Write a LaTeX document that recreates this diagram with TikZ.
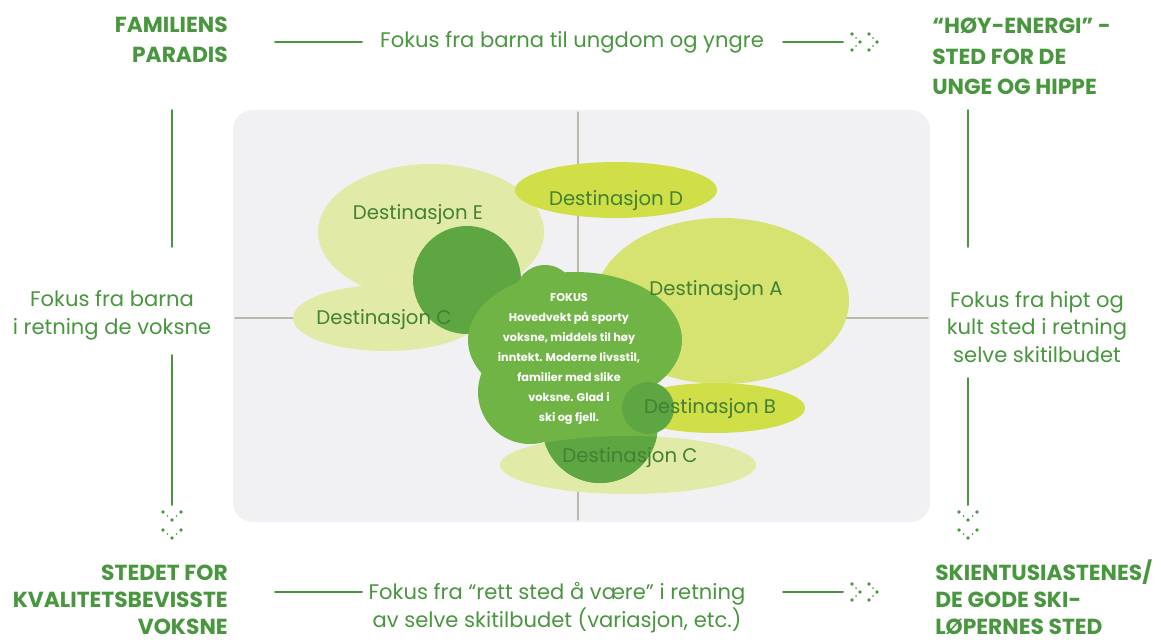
\documentclass[tikz,border=0pt]{standalone}
\usepackage{fontspec}
\setmainfont{Poppins}
\usetikzlibrary{positioning}
\definecolor{skigreen}{RGB}{72,150,62}
\definecolor{paneltone}{RGB}{241,241,243}
\definecolor{crossgray}{RGB}{188,184,176}
\definecolor{palelime}{RGB}{226,234,168}
\definecolor{midlime}{RGB}{214,227,112}
\definecolor{brightlime}{RGB}{208,223,72}
\definecolor{focusgreen}{RGB}{112,180,70}
\definecolor{deepgreen}{RGB}{94,166,66}
\definecolor{labelgreen}{RGB}{66,128,52}

\tikzset{
  corner/.style={text=skigreen, font=\bfseries\fontsize{15.5}{22}\selectfont, align=#1, inner sep=0pt},
  lowcorner/.style={corner=#1, font=\bfseries\fontsize{15.5}{19.2}\selectfont},
  axistext/.style={text=skigreen, font=\fontsize{15}{19.5}\selectfont, align=center, inner sep=0pt},
  destlabel/.style={text=labelgreen, font=\fontsize{14}{15}\selectfont, inner sep=0pt},
  axisline/.style={skigreen, line width=1.4pt},
}
% dotted chevrons
\newcommand{\chevright}[1]{%
  \begin{scope}[shift={(#1)}]
    \foreach \k in {0,17} {
      \foreach \a/\b/\r in {0/-8/1.3pt, 4/-4/0.7pt, 8/0/1.3pt, 4/4/0.7pt, 0/8/1.3pt}
        \fill[skigreen] (\a+\k,\b) circle (\r);
    }
  \end{scope}}
\newcommand{\chevdown}[1]{%
  \begin{scope}[shift={(#1)}]
    \foreach \k in {0,18} {
      \foreach \a/\b/\r in {-9/0/1.3pt, -4.5/4/0.7pt, 0/8/1.3pt, 4.5/4/0.7pt, 9/0/1.3pt}
        \fill[skigreen] (\a,\b+\k) circle (\r);
    }
  \end{scope}}

\begin{document}
\begin{tikzpicture}[line cap=round,line join=round, x=0.025cm,y=-0.025cm]
\useasboundingbox (0,0) rectangle (1161,643);
% panel and cross
\fill[paneltone, rounded corners=14pt] (233,110) rectangle (930,522);
\draw[crossgray, line width=0.8pt] (578,112) -- (578,520);
\draw[crossgray, line width=0.8pt] (235,318) -- (928,318);
% destinations
\fill[palelime] (431,232) ellipse [x radius=113, y radius=68];
\fill[brightlime] (616,190) ellipse [x radius=101, y radius=28];
\fill[midlime] (722,301) ellipse [x radius=127, y radius=83];
\fill[palelime] (386,318) ellipse [x radius=93, y radius=33];
\fill[brightlime] (715,408) ellipse [x radius=90, y radius=25];
\fill[palelime] (628,465) ellipse [x radius=128, y radius=29];
% focus blob
\fill[deepgreen] (467,280) circle [radius=54];
\fill[focusgreen] (545,295) circle [radius=30];
\fill[focusgreen] (575,340) ellipse [x radius=107, y radius=68];
\fill[focusgreen] (530,392) circle [radius=52];
\fill[focusgreen] (600,425) circle [radius=58];
\begin{scope}
  \clip (628,465) ellipse [x radius=128, y radius=29];
  \fill[deepgreen] (600,425) circle [radius=58];
\end{scope}
\fill[deepgreen] (648,408) circle [radius=26];
% destination labels
\node[destlabel] (destE) at (418,215) {Destinasjon E};
\node[destlabel] (destD) at (616,201) {Destinasjon D};
\node[destlabel] (destA) at (716,291) {Destinasjon A};
\node[destlabel] (destCl) at (384,320) {Destinasjon C};
\node[destlabel] (destB) at (710,409) {Destinasjon B};
\node[destlabel] (destCb) at (630,458) {Destinasjon C};
\node[text=white, font=\bfseries\fontsize{8}{14.2}\selectfont, align=center, inner sep=0pt, anchor=base] (fokus) at (569,421)
  {FOKUS\\Hovedvekt på sporty\\voksne, middels til høy\\inntekt. Moderne livsstil,\\familier med slike\\voksne. Glad i\\ski og fjell.};
% corners
\node[corner=right, anchor=base east] (famparadis) at (228,63) {FAMILIENS\\PARADIS};
\node[corner=left, anchor=base west] (hoyenergi) at (932,95) {“HØY-ENERGI” -\\STED FOR DE\\UNGE OG HIPPE};
\node[lowcorner=right, anchor=base east] (kvalitet) at (228,634) {STEDET FOR\\KVALITETSBEVISSTE\\VOKSNE};
\node[lowcorner=left, anchor=base west] (skientus) at (935,634) {SKIENTUSIASTENES/\\DE GODE SKI-\\LØPERNES STED};
% axis texts
\node[axistext, anchor=base] (topaxis) at (572,48) {Fokus fra barna til ungdom og yngre};
\node[axistext, anchor=base] (leftaxis) at (112,334) {Fokus fra barna\\i retning de voksne};
\node[axistext, anchor=base] (rightaxis) at (1037,362) {Fokus fra hipt og\\kult sted i retning\\selve skitilbudet};
\node[axistext, anchor=base] (botaxis) at (557,627) {Fokus fra “rett sted å være” i retning\\av selve skitilbudet (variasjon, etc.)};
% axis lines
\coordinate (tl1) at (275,42); \coordinate (tl2) at (362,42);
\coordinate (tr1) at (783,42); \coordinate (tr2) at (843,42);
\coordinate (bl1) at (275,592); \coordinate (bl2) at (362,592);
\coordinate (br1) at (783,592); \coordinate (br2) at (843,592);
\coordinate (lu1) at (172,110); \coordinate (lu2) at (172,247);
\coordinate (ld1) at (172,355); \coordinate (ld2) at (172,505);
\coordinate (ru1) at (968,110); \coordinate (ru2) at (968,247);
\coordinate (rd1) at (968,378); \coordinate (rd2) at (968,505);
\draw[axisline] (tl1) -- (tl2);
\draw[axisline] (tr1) -- (tr2);
\draw[axisline] (bl1) -- (bl2);
\draw[axisline] (br1) -- (br2);
\draw[axisline] (lu1) -- (lu2);
\draw[axisline] (ld1) -- (ld2);
\draw[axisline] (ru1) -- (ru2);
\draw[axisline] (rd1) -- (rd2);
\chevright{852,42}
\chevright{852,592}
\chevdown{172,512}
\chevdown{968,512}
\end{tikzpicture}
\end{document}
